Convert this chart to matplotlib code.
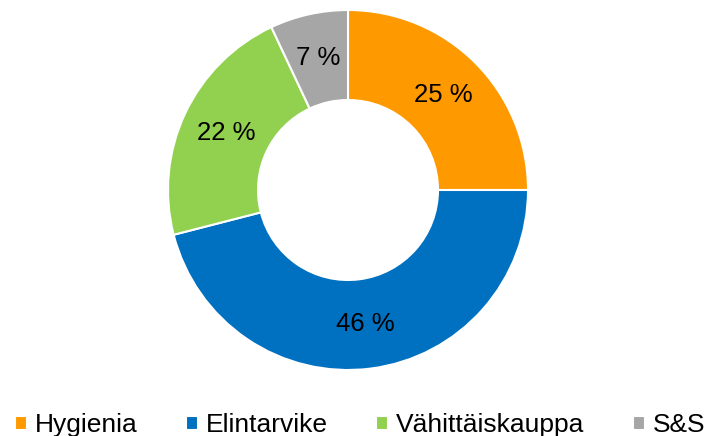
import matplotlib.pyplot as plt

plt.rcParams['font.family'] = ['Liberation Sans', 'DejaVu Sans']

labels = ["Hygienia", "Elintarvike", "Vähittäiskauppa", "S&S"]
values = [25, 46, 22, 7]
colors = ["#FF9900", "#0070C0", "#92D050", "#A6A6A6"]

fig = plt.figure(figsize=(7.14, 4.36), dpi=100)
ax = fig.add_axes([168 / 714, 66 / 436, 360 / 714, 360 / 436])

wedges, texts, autotexts = ax.pie(
    values, colors=colors, startangle=90, counterclock=False,
    autopct=lambda p: f"{p:.0f} %", pctdistance=0.75, radius=1,
    wedgeprops=dict(width=0.5, edgecolor="white", linewidth=1.5),
    textprops=dict(fontsize=18.5, color="black"))
ax.set_xlim(-1, 1)
ax.set_ylim(-1, 1)
ax.set_aspect("equal")

fig.legend(wedges, labels, loc="center", bbox_to_anchor=(360 / 714, 1 - 425 / 436),
           ncol=4, frameon=False, fontsize=19, handlelength=0.44, handleheight=0.44,
           handletextpad=0.3, columnspacing=1.85, borderaxespad=0, borderpad=0)

plt.savefig("out.png", dpi=100)
